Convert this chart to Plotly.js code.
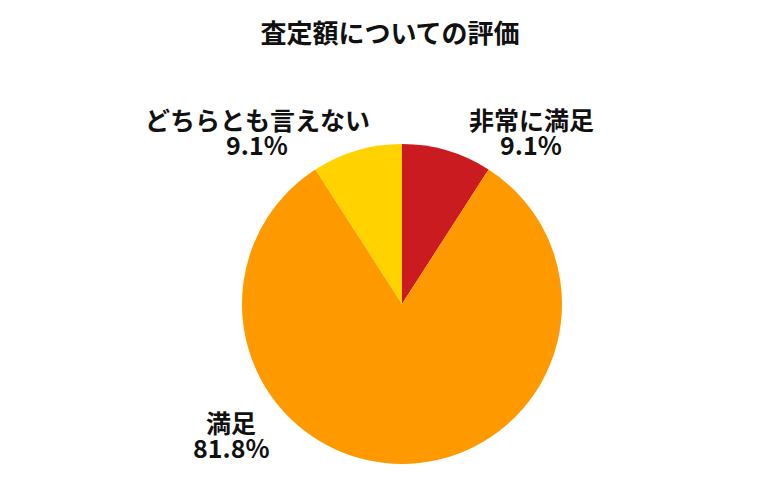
<!DOCTYPE html>
<html><head><meta charset="utf-8">
<script src="https://cdn.plot.ly/plotly-3.0.1.min.js"></script>
<style>html,body{margin:0;padding:0;background:#fff}</style>
</head><body>
<div id="chart" style="width:780px;height:500px"></div>
<script>
const categories = ['非常に満足', '満足', 'どちらとも言えない'];
const values = [9.1, 81.8, 9.1];
const colors = ['#C91B20', '#FF9900', '#FFD200'];
const chartTitle = '査定額についての評価';

// label block centres in pixels (layout only)
const labelPx = [[531, 131], [231, 434], [257, 131]];

const font = "'Noto Sans CJK JP', 'Noto Sans', sans-serif";
const W = 780, H = 500;
const M = {t: 144, b: 36, l: 242, r: 218};
const pw = W - M.l - M.r, ph = H - M.t - M.b;
const toX = px => (px - M.l) / pw;
const toY = py => (H - M.b - py) / ph;

const annotations = [];
categories.forEach((c, i) => {
  const [px, py] = labelPx[i];
  annotations.push({
    text: '<b>' + c + '</b>', xref: 'paper', yref: 'paper',
    x: toX(px), y: toY(py - 12.5), xanchor: 'center', yanchor: 'middle',
    showarrow: false, font: {family: font, size: 25, color: '#111'}
  });
  annotations.push({
    text: '<b>' + values[i].toFixed(1) + '%</b>', xref: 'paper', yref: 'paper',
    x: toX(px), y: toY(py + 13), xanchor: 'center', yanchor: 'middle',
    showarrow: false, font: {family: font, size: 25, color: '#111'}
  });
});

Plotly.newPlot('chart', [{
  type: 'pie',
  labels: categories,
  values: values,
  sort: false,
  direction: 'clockwise',
  rotation: 0,
  marker: {colors: colors, line: {width: 0}},
  textinfo: 'none',
  hoverinfo: 'none',
  automargin: false
}], {
  width: W, height: H,
  margin: M,
  showlegend: false,
  paper_bgcolor: '#fff',
  annotations: annotations,
  title: {text: '<b>' + chartTitle + '</b>', font: {family: font, size: 26, color: '#111'},
          x: 0.5, xref: 'container', xanchor: 'center', y: 1 - 34 / H, yref: 'container', yanchor: 'middle'}
}, {displayModeBar: false, staticPlot: true});
</script>
</body></html>
